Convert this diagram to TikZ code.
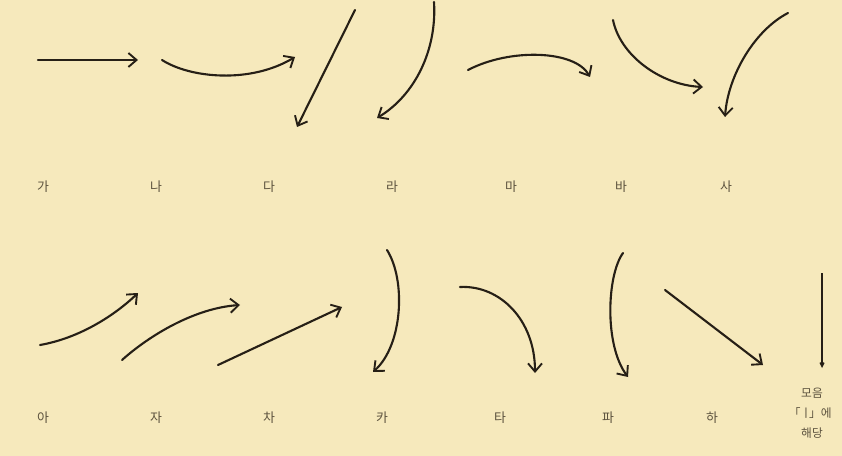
\documentclass[tikz,border=0pt]{standalone}
\usepackage{fontspec}
\newfontfamily\kofont{Noto Sans CJK KR}
\usetikzlibrary{arrows.meta}
\definecolor{paper}{RGB}{246,233,188}
\definecolor{ink}{RGB}{38,31,22}
\definecolor{print}{RGB}{92,82,62}

\begin{document}
\begin{tikzpicture}[x=0.03cm, y=-0.03cm,
    stroke/.style={ink, line width=1.8pt, line cap=round,
        -{Straight Barb[length=7pt, width=12pt, line width=1.6pt]}},
    syl/.style={print, inner sep=0pt, font=\kofont\fontsize{11}{13}\selectfont},
    note/.style={print, inner sep=0pt, align=center,
        font=\kofont\fontsize{10}{17}\selectfont}]
    % paper
    \fill[paper] (0,0) rectangle (842,456);

    % upper row: start and end of each stroke
    \coordinate (ga0) at (38,60);   \coordinate (ga1) at (138,60);
    \coordinate (na0) at (162,60);  \coordinate (na1) at (295,57);
    \coordinate (da0) at (355,10);  \coordinate (da1) at (297,127);
    \coordinate (ra0) at (434,2);   \coordinate (ra1) at (377,118);
    \coordinate (ma0) at (468,70);  \coordinate (ma1) at (590,77);
    \coordinate (ba0) at (613,20);  \coordinate (ba1) at (703,87);
    \coordinate (sa0) at (788,13);  \coordinate (sa1) at (725,117);

    \draw[stroke] (ga0) -- (ga1);
    \draw[stroke] (na0) .. controls (190,78) and (250,84) .. (na1);
    \draw[stroke] (da0) -- (da1);
    \draw[stroke] (ra0) .. controls (437,50) and (415,95) .. (ra1);
    \draw[stroke] (ma0) .. controls (510,48) and (575,50) .. (ma1);
    \draw[stroke] (ba0) .. controls (620,55) and (660,85) .. (ba1);
    \draw[stroke] (sa0) .. controls (755,30) and (728,75) .. (sa1);

    \node[syl] (lga) at (43,187)  {가};
    \node[syl] (lna) at (156,187) {나};
    \node[syl] (lda) at (269,187) {다};
    \node[syl] (lra) at (392,187) {라};
    \node[syl] (lma) at (511,187) {마};
    \node[syl] (lba) at (621,187) {바};
    \node[syl] (lsa) at (726,187) {사};

    % lower row
    \coordinate (a0) at (40,345);    \coordinate (a1) at (138,293);
    \coordinate (ja0) at (122,360);  \coordinate (ja1) at (240,305);
    \coordinate (cha0) at (218,365); \coordinate (cha1) at (342,307);
    \coordinate (ka0) at (387,250);  \coordinate (ka1) at (373,372);
    \coordinate (ta0) at (460,287);  \coordinate (ta1) at (535,373);
    \coordinate (pa0) at (623,253);  \coordinate (pa1) at (628,377);
    \coordinate (ha0) at (665,290);  \coordinate (ha1) at (763,365);
    \coordinate (i0) at (822,273);   \coordinate (i1) at (822,368);

    \draw[stroke] (a0) .. controls (80,338) and (115,315) .. (a1);
    \draw[stroke] (ja0) .. controls (150,335) and (195,308) .. (ja1);
    \draw[stroke] (cha0) -- (cha1);
    \draw[stroke] (ka0) .. controls (406,280) and (403,345) .. (ka1);
    \draw[stroke] (ta0) .. controls (500,285) and (535,320) .. (ta1);
    \draw[stroke] (pa0) .. controls (607,275) and (604,345) .. (pa1);
    \draw[stroke] (ha0) -- (ha1);
    \draw[ink, line width=1.5pt, -{Straight Barb[length=3pt, width=3pt]}] (i0) -- (i1);

    \node[syl] (la) at (43,418)   {아};
    \node[syl] (lja) at (156,418) {자};
    \node[syl] (lcha) at (269,418) {차};
    \node[syl] (lka) at (382,418) {카};
    \node[syl] (lta) at (500,418) {타};
    \node[syl] (lpa) at (608,418) {파};
    \node[syl] (lha) at (712,418) {하};
    \node[note] (li) at (812,413) {모음\\\kern-.3em「ㅣ\kern-.2em」에\\해당};
\end{tikzpicture}
\end{document}
